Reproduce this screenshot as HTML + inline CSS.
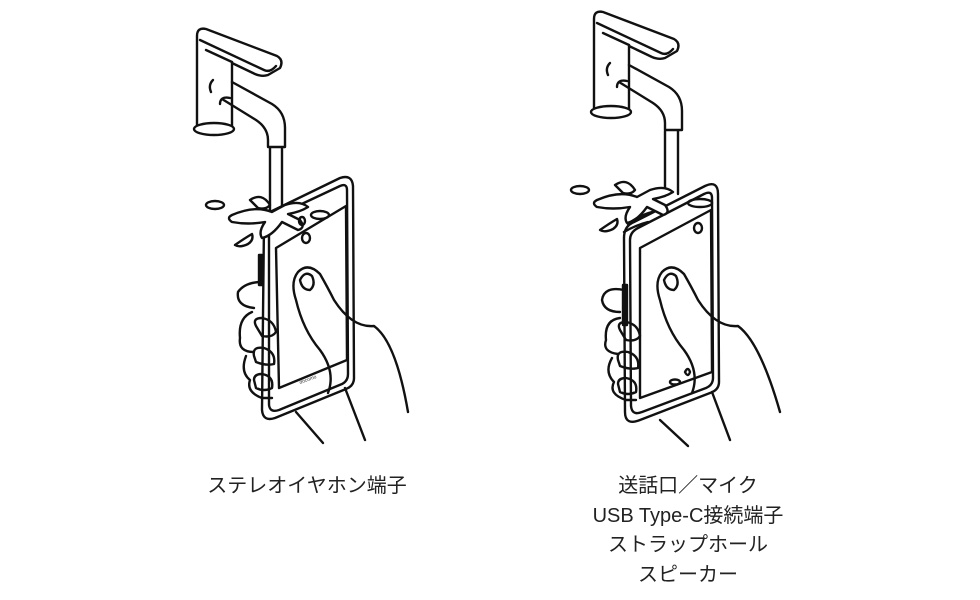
<!DOCTYPE html>
<html><head><meta charset="utf-8"><style>
html,body{margin:0;padding:0;background:#fff}
body{width:980px;height:600px;position:relative;overflow:hidden;font-family:"Liberation Sans","Noto Sans CJK JP",sans-serif}
.t{position:absolute;font-size:20px;color:#222;text-align:center;line-height:29.5px}
</style></head><body>
<svg width="980" height="600" style="position:absolute;left:0;top:0" fill="none" stroke="#111" stroke-width="2.4" stroke-linejoin="round" stroke-linecap="round">
<defs>
<g id="faucet">
  <path d="M197,36 Q197,27 206,29 L277,56 Q284,60 280,68 L268,75 Q262,77 255,74 L232,63 L232,128 L197,128 Z" fill="#fff"/>
  <path d="M200,40 L264,70 Q270,73 276,66"/>
  <path d="M206,50 L232,62"/>
  <ellipse cx="214" cy="129" rx="20" ry="6" fill="#fff"/>
  <path d="M232,82 L272,104 Q285,112 285,128 L285,147 M230,98 Q220,96 220,104 M222,99 L256,120 Q268,128 268,140 L268,147 M268,147 L285,147"/>
  <path d="M213,80 Q208,85 211,92"/>
</g>
<g id="splash">
  <path d="M250,200 Q262,192 270,205 Q266,210 258,208 Z"/>
  <ellipse cx="215" cy="205" rx="9" ry="4"/>
  <path d="M232,215 Q255,205 272,212 L285,205 Q300,200 308,207 Q300,212 288,214 L300,220 Q306,228 298,230 Q290,226 282,222 Q272,236 262,238 Q258,232 265,222 Q248,225 232,222 Q226,218 232,215 Z" fill="#fff"/>
  <path d="M235,245 Q245,238 252,234 Q254,240 248,244 Q240,248 235,245 Z"/>
</g>
</defs>
<!-- LEFT -->
<use href="#faucet"/>
<path d="M270,148 L270,212 M282,148 L282,210"/>
<path d="M264,222 Q262,216 270,212 L340,178 Q352,174 353,186 L354,378 Q354,386 346,389 L275,418 Q263,422 262,410 Z" fill="#fff"/>
<path d="M269,226 Q268,220 274,217 L340,186 Q347,183 347,190 L348,374 Q348,381 342,384 L279,410 Q270,413 269,405 Z"/>
<path d="M276,248 L346,206 L347,360 L279,388 Z"/>
<path d="M259,255 L262,255 L263,285 L259,285 Z" fill="#111"/>
<use href="#splash"/>
<ellipse cx="306" cy="238" rx="4" ry="5"/>
<ellipse cx="302" cy="221" rx="3" ry="4"/>
<ellipse cx="320" cy="215" rx="9" ry="4"/>
<text x="300" y="384" font-size="5" fill="#333" stroke="none" transform="rotate(-20 300 384)">docomo</text>
<path d="M296,300 Q290,282 298,272 Q308,262 320,274 Q328,288 334,300 Q352,328 374,326 Q396,342 408,412 M296,300 Q303,330 320,350 Q336,372 328,393"/>
<path d="M300,280 Q305,270 312,276 Q316,285 310,290 Q302,290 300,280 Z"/>
<path d="M296,412 L323,443 M345,388 L365,440"/>
<path d="M262,282 Q245,282 238,292 Q236,306 254,308 M252,312 Q238,318 240,338 Q238,352 254,352 M246,356 Q240,372 250,380 Q246,392 262,398 L272,398"/>
<path d="M256,326 Q252,318 262,318 Q274,320 276,332 Q272,338 262,336 Z M254,356 Q252,346 264,348 Q276,352 274,364 Q266,366 256,362 Z M254,380 Q254,374 262,374 Q274,376 272,388 Q264,392 256,388 Z"/>
<!-- RIGHT -->
<use href="#faucet" transform="translate(397,-17)"/>
<path d="M665,131 L665,196 M678,131 L678,194"/>
<path d="M624,238 Q624,226 634,222 L705,186 Q718,180 718,194 L719,382 Q719,390 710,393 L640,420 Q625,426 625,412 Z" fill="#fff"/>
<path d="M630,240 Q630,232 638,228 L704,194 Q712,190 712,198 L713,378 Q713,385 706,388 L642,412 Q632,416 631,406 Z"/>
<path d="M640,248 L711,210 L712,372 L640,398 Z"/>
<path d="M623,285 L627,285 L627,325 L623,325 Z" fill="#111"/>
<use href="#splash" transform="translate(365,-15)"/>
<ellipse cx="700" cy="203" rx="12" ry="4"/>
<path d="M628,224 Q640,215 652,212 M624,232 Q636,225 648,222"/>
<ellipse cx="698" cy="228" rx="4" ry="5"/>
<ellipse cx="675" cy="382" rx="5" ry="2.5"/>
<path d="M685,372 Q688,366 690,372 Q688,378 685,372 Z"/>
<path d="M660,300 Q654,282 662,272 Q672,262 684,274 Q692,288 698,300 Q716,328 738,326 Q760,342 780,412 M660,300 Q667,330 684,350 Q700,372 692,393"/>
<path d="M664,280 Q669,270 676,276 Q680,285 674,290 Q666,290 664,280 Z"/>
<path d="M660,420 L688,446 M712,392 L730,440"/>
<path d="M624,290 Q604,286 602,300 Q604,312 620,312 M620,318 Q604,320 606,340 Q602,352 618,354 M612,358 Q604,372 614,382 Q608,394 626,400 L636,400"/>
<path d="M620,330 Q616,322 626,322 Q638,324 640,336 Q636,342 626,340 Z M618,360 Q616,350 628,352 Q640,356 638,368 Q630,370 620,366 Z M618,384 Q618,378 626,378 Q638,380 636,392 Q628,396 620,392 Z"/>
</svg>
<div class="t" style="left:157px;top:472px;width:300px">ステレオイヤホン端子</div>
<div class="t" style="left:538px;top:472px;width:300px">送話口／マイク<br>USB Type-C接続端子<br>ストラップホール<br>スピーカー</div>
</body></html>
